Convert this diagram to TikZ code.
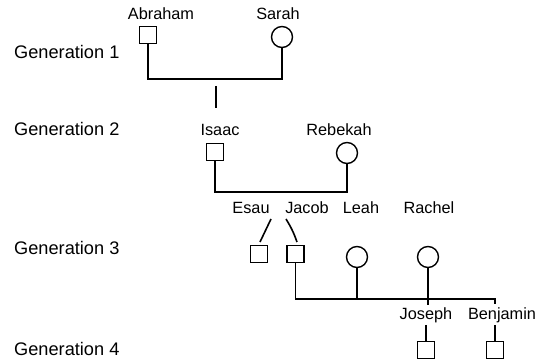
\documentclass[tikz,border=0pt]{standalone}
\usepackage{fontspec}
\setmainfont{Liberation Sans}
\begin{document}
\begin{tikzpicture}[x=1pt,y=-1pt,
  male/.style={draw,line width=1.4pt,rectangle,minimum size=17pt,inner sep=0pt},
  female/.style={draw,line width=1.4pt,circle,minimum size=21pt,inner sep=0pt},
  personlabel/.style={font=\fontsize{16.3}{18}\selectfont,inner sep=1pt},
  genlabel/.style={font=\fontsize{18.2}{20}\selectfont,inner sep=0pt},
  link/.style={line width=1.6pt}]
\useasboundingbox (0,0) rectangle (536,363);

% generation captions
\node[genlabel,anchor=west] (g1) at (14,52) {Generation 1};
\node[genlabel,anchor=west] (g2) at (14,129) {Generation 2};
\node[genlabel,anchor=west] (g3) at (14,248) {Generation 3};
\node[genlabel,anchor=west] (g4) at (14,349) {Generation 4};

% generation 1
\node[personlabel] (abrahamL) at (161,14) {Abraham};
\node[male] (abraham) at (148,35) {};
\node[personlabel] (sarahL) at (278,14) {Sarah};
\node[female] (sarah) at (282,37) {};
\coordinate (m1) at (216,79);
\draw[link] (abraham.south) |- (m1) -| (sarah.south);
\coordinate (d1a) at (216,86);
\coordinate (d1b) at (216,108);
\draw[link] (d1a) -- (d1b);

% generation 2
\node[personlabel] (isaacL) at (220,130) {Isaac};
\node[male] (isaac) at (215,152) {};
\node[personlabel] (rebekahL) at (339,130) {Rebekah};
\node[female] (rebekah) at (347,153) {};
\coordinate (m2) at (280,192);
\draw[link] (isaac.south) |- (m2) -| (rebekah.south);

% generation 3
\node[personlabel] (esauL) at (251,208) {Esau};
\node[personlabel] (jacobL) at (307,208) {Jacob};
\node[personlabel] (leahL) at (361,208) {Leah};
\node[personlabel] (rachelL) at (429,208) {Rachel};
\node[male] (esau) at (259,254) {};
\node[male] (jacob) at (295.5,254) {};
\node[female] (leah) at (357,257) {};
\node[female] (rachel) at (428,257) {};
\coordinate (e1) at (271,219);
\coordinate (e2) at (260,242);
\coordinate (j1) at (286,219);
\coordinate (j2) at (297,242);
\draw[link] (e1) -- (e2);
\draw[link] (j1) to[bend left=6] (j2);
\coordinate (m3) at (495,299);
\coordinate (m3end) at (495,304);
\coordinate (r3end) at (428,305);
\draw[link] (jacob.south) |- (m3) -- (m3end);
\draw[link] (leah.south) -- (leah.south |- m3);
\draw[link] (rachel.south) -- (r3end);

% generation 4
\node[personlabel] (josephL) at (426,315) {Joseph};
\node[personlabel] (benjaminL) at (502,315) {Benjamin};
\node[male] (joseph) at (426,350) {};
\node[male] (benjamin) at (495,350) {};
\coordinate (jo1) at (426,325);
\coordinate (be1) at (495,325);
\draw[link] (jo1) -- (joseph.north);
\draw[link] (be1) -- (benjamin.north);
\end{tikzpicture}
\end{document}
